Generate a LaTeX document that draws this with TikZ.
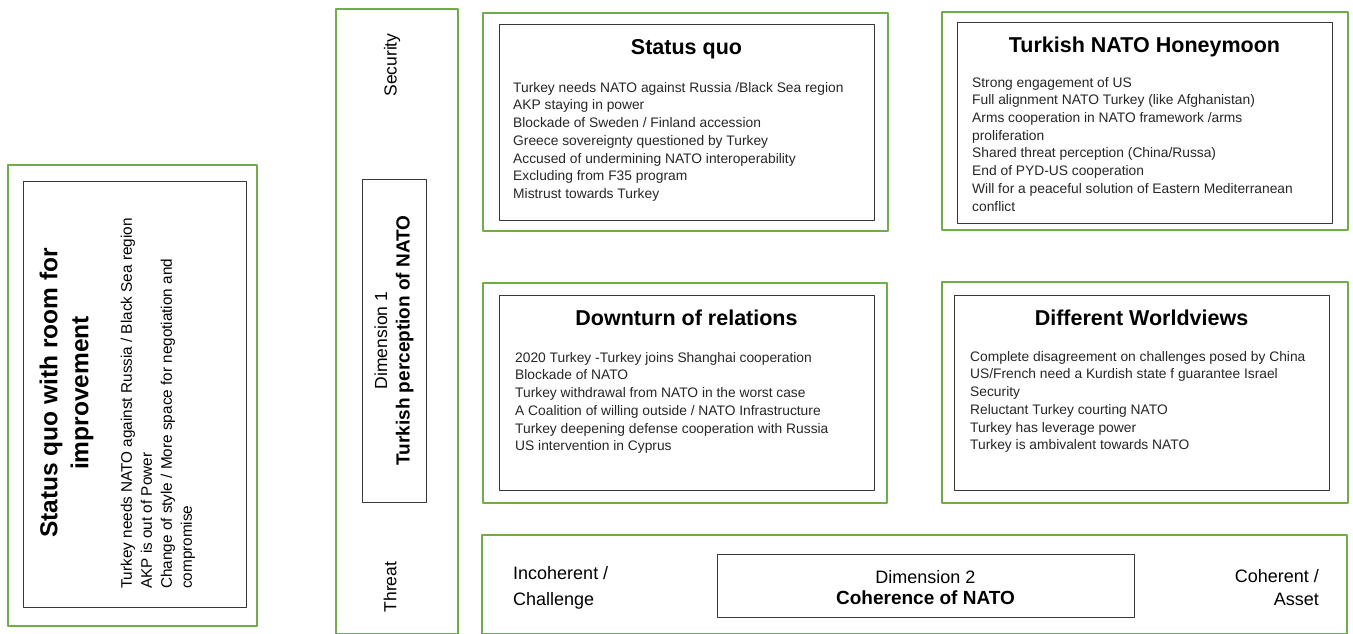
\documentclass[tikz,border=0pt]{standalone}
\usepackage{fontspec}
\setmainfont{Liberation Sans}
\definecolor{framegreen}{RGB}{112,173,71}
\definecolor{boxgray}{RGB}{55,55,55}
\newcommand{\fsz}[2]{\fontsize{#1}{#2}\selectfont}

\begin{document}
\begin{tikzpicture}[line cap=round,line join=round,x=1pt,y=-1pt,
    greenframe/.style={draw=framegreen,line width=2pt},
    blackbox/.style={draw=boxgray,line width=1pt},
    headline/.style={anchor=base,inner sep=0pt,font=\fsz{21.5}{26}\bfseries},
    itemlist/.style={anchor=north west,inner sep=0pt,align=left,text=black!85,font=\fsz{13.8}{17.7}},
    sidelabel/.style={rotate=90,inner sep=0pt,font=\fsz{17.5}{22.3}}]
\useasboundingbox (0.,0.) rectangle (1353.,633.);
% left panel
\draw[greenframe] (8.,165.) rectangle (257.,626.);
\draw[blackbox] (23.,181.) rectangle (246.,607.);
\node[rotate=90,align=center,inner sep=0pt,font=\fsz{24.5}{31}\bfseries] (roomTitle) at (66.5,393.) {Status quo with room for\\improvement};
\node[rotate=90,anchor=north west,align=left,inner sep=0pt,font=\fsz{15.3}{20}] (roomItems) at (120.5,589.) {Turkey needs NATO against Russia / Black Sea region\\AKP is out of Power\\Change of style / More space for negotiation and\\compromise};
% dimension 1
\draw[greenframe] (336.,9.) rectangle (458.,634.);
\draw[blackbox] (362.,179.) rectangle (426.,502.);
\node[sidelabel] (security) at (392.,65.) {Security};
\node[sidelabel] (threat) at (390.,587.) {Threat};
\node[sidelabel,align=center] (dimOne) at (394.,340.5) {Dimension 1\\{\fsz{19}{22.3}\bfseries Turkish perception of NATO}};
% quadrants
\draw[greenframe] (483.,13.) rectangle (888.,231.);
\draw[blackbox] (499.,24.) rectangle (874.,220.);
\node[headline] (sqTitle) at (686.5,54.) {Status quo};
\node[itemlist] (sqItems) at (513.,82.) {Turkey needs NATO against Russia /Black Sea region\\AKP staying in power\\Blockade of Sweden / Finland accession\\Greece sovereignty questioned by Turkey\\Accused of undermining NATO interoperability\\Excluding from F35 program\\Mistrust towards Turkey};
\draw[greenframe] (942.,12.) rectangle (1348.,230.);
\draw[blackbox] (957.,22.) rectangle (1332.,223.);
\node[headline] (hmTitle) at (1144.5,52.) {Turkish NATO Honeymoon};
\node[itemlist] (hmItems) at (972.,77.) {Strong engagement of US\\Full alignment NATO Turkey (like Afghanistan)\\Arms cooperation in NATO framework /arms\\proliferation\\Shared threat perception (China/Russa)\\End of PYD-US cooperation\\Will for a peaceful solution of Eastern Mediterranean\\conflict};
\draw[greenframe] (483.,283.) rectangle (887.,503.);
\draw[blackbox] (499.,295.) rectangle (874.,490.);
\node[headline] (dtTitle) at (686.5,325.) {Downturn of relations};
\node[itemlist] (dtItems) at (515.,352.) {2020 Turkey -Turkey joins Shanghai cooperation\\Blockade of NATO\\Turkey withdrawal from NATO in the worst case\\A Coalition of willing outside / NATO Infrastructure\\Turkey deepening defense cooperation with Russia\\US intervention in Cyprus};
\draw[greenframe] (942.,282.) rectangle (1348.,503.);
\draw[blackbox] (954.,295.) rectangle (1329.,490.);
\node[headline] (wvTitle) at (1141.5,325.) {Different Worldviews};
\node[itemlist] (wvItems) at (970.,351.) {Complete disagreement on challenges posed by China\\US/French need a Kurdish state f guarantee Israel\\Security\\Reluctant Turkey courting NATO\\Turkey has leverage power\\Turkey is ambivalent towards NATO};
% dimension 2
\draw[greenframe] (482.,535.) rectangle (1347.,634.);
\draw[blackbox] (717.,554.) rectangle (1134.,617.);
\node[anchor=north west,align=left,inner sep=0pt,font=\fsz{18}{26}] (incoherent) at (513.,566.) {Incoherent /\\Challenge};
\node[anchor=north east,align=right,inner sep=0pt,font=\fsz{18}{23}] (coherent) at (1319.,569.) {Coherent /\\Asset};
\node[align=center,inner sep=0pt,font=\fsz{18}{21}] (dimTwo) at (925.5,588.) {Dimension 2\\{\fsz{19}{21}\bfseries Coherence of NATO}};
\end{tikzpicture}
\end{document}
